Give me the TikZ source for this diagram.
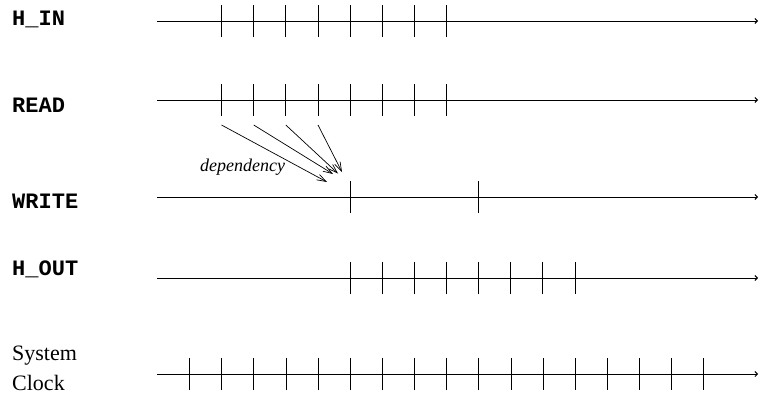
\documentclass[tikz,border=0pt]{standalone}
\usepackage{fontspec}
\setmainfont{Liberation Serif}
\setmonofont{Liberation Mono}
\usetikzlibrary{arrows.meta}
\begin{document}
\begin{tikzpicture}[x=1pt,y=-1pt,
  sig/.style={font=\fontsize{22}{22}\selectfont\ttfamily\bfseries, anchor=base west, inner sep=0pt},
  plain/.style={font=\fontsize{22}{22}\selectfont, anchor=base west, inner sep=0pt},
  deplabel/.style={font=\fontsize{18}{18}\selectfont\itshape, anchor=base west, inner sep=0pt},
  axis/.style={line width=0.9pt, -{Straight Barb[length=2.5pt,width=5pt]}},
  tick/.style={line width=0.9pt},
  dep/.style={line width=0.7pt, -{Straight Barb[length=9pt,width=6pt]}}]
\useasboundingbox (0,0) rectangle (759,394);
% labels
\node[sig] (lhin) at (12,25) {H\_IN};
\node[sig] (lread) at (12,112) {READ};
\node[sig] (lwrite) at (12,208) {WRITE};
\node[sig] (lhout) at (12,275) {H\_OUT};
\node[plain] (lsys) at (12,360) {System};
\node[plain] (lclk) at (12,390) {Clock};
% axes
\foreach \n/\y in {hin/21, read/100, write/197, hout/278, clk/374} {
  \coordinate (\n-s) at (157,\y);
  \coordinate (\n-e) at (758,\y);
  \draw[axis] (\n-s) -- (\n-e);
}
% ticks
\foreach \i in {0,...,7} {
  \draw[tick] (221.5+32.15*\i,5) -- (221.5+32.15*\i,37);
  \draw[tick] (221.5+32.15*\i,84) -- (221.5+32.15*\i,116);
  \draw[tick] (350+32.15*\i,262) -- (350+32.15*\i,294);
}
\foreach \x in {350,478.6} \draw[tick] (\x,181) -- (\x,213);
\foreach \i in {0,...,16} \draw[tick] (189.5+32.15*\i,358) -- (189.5+32.15*\i,390);
% dependency arrows
\coordinate (d0) at (221.5,125);
\coordinate (d1) at (253.7,125);
\coordinate (d2) at (285.8,125);
\coordinate (d3) at (318,125);
\coordinate (t0) at (327,182);
\coordinate (t1) at (333,174);
\coordinate (t2) at (338,173.5);
\coordinate (t3) at (342,172);
\draw[dep] (d0) -- (t0);
\draw[dep] (d1) -- (t1);
\draw[dep] (d2) -- (t2);
\draw[dep] (d3) -- (t3);
\node[deplabel] (dep) at (200,171) {dependency};
\end{tikzpicture}
\end{document}
